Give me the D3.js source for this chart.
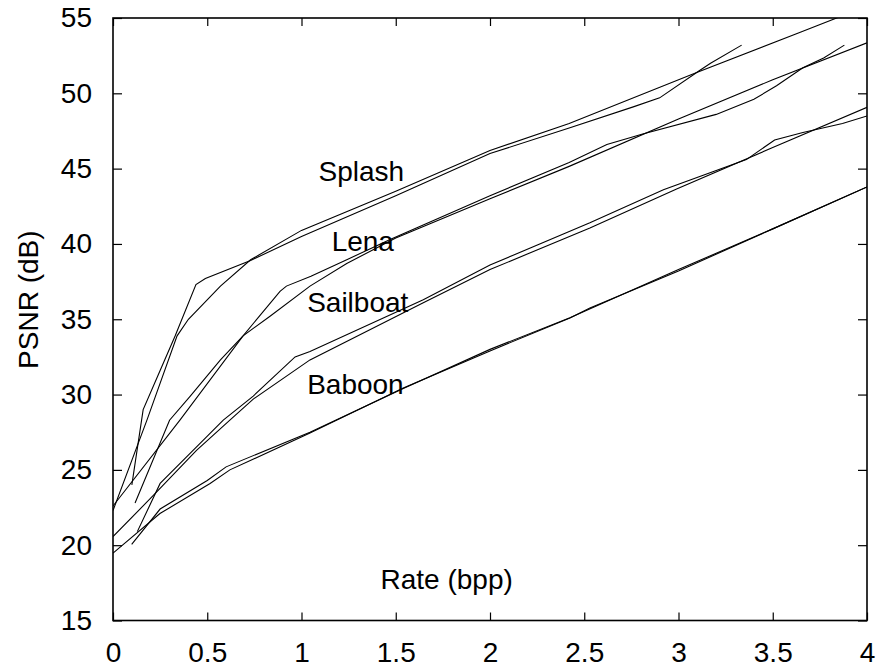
<!DOCTYPE html>
<html>
<head>
<meta charset="utf-8">
<script src="https://cdn.jsdelivr.net/npm/d3@7"></script>
<style>
  body { margin: 0; background: #fff; }
  text { font-family: "Liberation Sans", Arial, Helvetica, sans-serif; }
</style>
</head>
<body>
<script>
// rate (bpp), psnr (dB) pairs
const splashA = [[0.1,24.0],[0.16,29.0],[0.25,31.6],[0.33,33.9],[0.44,37.3],[0.49,37.7],[0.73,38.9],[1.0,40.5],[1.5,43.2],[2.0,46.0],[2.42,47.7],[2.76,49.1],[2.9,49.7],[3.11,51.5],[3.17,52.0],[3.335,53.2]];
const splashB = [[0,22.3],[0.18,28.3],[0.34,33.9],[0.4,35.0],[0.57,37.2],[0.73,38.95],[1.0,40.9],[1.5,43.5],[2.0,46.2],[2.42,48.0],[3.1,51.4],[3.636,54.0],[3.9,55.3]];
const lenaA = [[0.117,22.8],[0.3,28.3],[0.41,29.9],[0.57,32.3],[0.69,33.9],[0.886,36.85],[0.92,37.2],[1.05,37.85],[1.24,38.95],[1.47,40.3],[2.0,43.2],[2.42,45.4],[2.62,46.6],[2.81,47.3],[3.2,48.6],[3.4,49.6],[3.52,50.5],[3.66,51.7],[3.77,52.35],[3.88,53.2]];
const lenaB = [[0,22.6],[0.355,28.3],[0.69,33.9],[0.833,35.2],[1.045,37.2],[1.24,38.7],[1.5,40.4],[2.0,43.0],[2.42,45.15],[3.0,48.3],[3.5,50.9],[4.0,53.35]];
const sailA = [[0.129,20.9],[0.25,24.1],[0.585,28.3],[0.744,29.9],[0.966,32.5],[1.045,32.86],[1.646,36.3],[2.0,38.6],[2.53,41.4],[2.92,43.6],[3.36,45.6],[3.51,46.9],[3.66,47.4],[3.87,48.0],[4.0,48.5]];
const sailB = [[0,20.57],[0.214,23.3],[0.443,26.3],[0.62,28.3],[0.744,29.7],[1.045,32.3],[1.646,36.1],[2.0,38.3],[2.53,41.06],[2.99,43.65],[3.5,46.4],[4.0,49.07]];
const baboonA = [[0.099,20.06],[0.25,22.4],[0.5,24.3],[0.6,25.2],[1.045,27.5],[1.54,30.4],[2.0,33.0],[2.424,35.1],[3.0,38.3],[3.5,41.0],[4.0,43.78]];
const baboonB = [[0,19.47],[0.249,22.1],[0.515,24.1],[0.62,25.0],[1.045,27.44],[1.54,30.43],[2.0,32.9],[2.424,35.08],[2.53,35.74],[3.0,38.2],[3.5,41.0],[4.0,43.78]];

const xTicks = [0, 0.5, 1, 1.5, 2, 2.5, 3, 3.5, 4];
const yTicks = [15, 20, 25, 30, 35, 40, 45, 50, 55];
const curveLabels = [
  {name: "Splash", x: 1.09, y: 44.2},
  {name: "Lena", x: 1.16, y: 39.5},
  {name: "Sailboat", x: 1.03, y: 35.5},
  {name: "Baboon", x: 1.03, y: 30.03}
];

const W = 876, H = 667;
const mLeft = 113, mRight = 867, mTop = 18, mBottom = 620.5;

const svg = d3.select("body").append("svg").attr("width", W).attr("height", H);

const x = d3.scaleLinear().domain([0, 4]).range([mLeft, mRight]);
const y = d3.scaleLinear().domain([15, 55]).range([mBottom, mTop]);

svg.append("clipPath").attr("id", "plot")
  .append("rect").attr("x", mLeft).attr("y", mTop)
  .attr("width", mRight - mLeft).attr("height", mBottom - mTop);

const line = d3.line().x(d => x(d[0])).y(d => y(d[1]));

const series = [splashA, splashB, lenaA, lenaB, sailA, sailB, baboonA, baboonB];
svg.append("g").attr("clip-path", "url(#plot)")
  .selectAll("path")
  .data(series)
  .enter().append("path")
  .attr("d", line)
  .attr("fill", "none")
  .attr("stroke", "#000")
  .attr("stroke-width", 1.1);

// axes, ticks point inward on all four sides
const fmt = d => String(d);
svg.append("g").attr("transform", `translate(0,${mBottom})`)
  .call(d3.axisBottom(x).tickValues(xTicks).tickFormat(fmt).tickSizeInner(-8).tickSizeOuter(0).tickPadding(22));
svg.append("g").attr("transform", `translate(0,${mTop})`)
  .call(d3.axisTop(x).tickValues(xTicks).tickFormat("").tickSizeInner(-8).tickSizeOuter(0));
svg.append("g").attr("transform", `translate(${mLeft},0)`)
  .call(d3.axisLeft(y).tickValues(yTicks).tickFormat(fmt).tickSizeInner(-9).tickSizeOuter(0).tickPadding(21));
svg.append("g").attr("transform", `translate(${mRight},0)`)
  .call(d3.axisRight(y).tickValues(yTicks).tickFormat("").tickSizeInner(-9).tickSizeOuter(0));

svg.selectAll(".domain").remove();
svg.selectAll(".tick line").attr("stroke", "#000").attr("stroke-width", 1.2);
svg.selectAll(".tick text")
  .attr("font-family", "'Liberation Sans', Arial, sans-serif")
  .attr("font-size", 28).attr("fill", "#000");

svg.append("rect")
  .attr("x", mLeft).attr("y", mTop)
  .attr("width", mRight - mLeft).attr("height", mBottom - mTop)
  .attr("fill", "none").attr("stroke", "#000").attr("stroke-width", 1.6);

svg.selectAll(".clabel")
  .data(curveLabels)
  .enter().append("text")
  .attr("class", "clabel")
  .attr("x", d => x(d.x)).attr("y", d => y(d.y))
  .attr("font-size", 28)
  .text(d => d.name);

svg.append("text")
  .attr("x", x(1.77)).attr("y", y(17.1))
  .attr("text-anchor", "middle")
  .attr("font-size", 28)
  .text("Rate (bpp)");

svg.append("text")
  .attr("transform", `translate(38,${y(36.3)}) rotate(-90)`)
  .attr("text-anchor", "middle")
  .attr("font-size", 28)
  .text("PSNR (dB)");
</script>
</body>
</html>
